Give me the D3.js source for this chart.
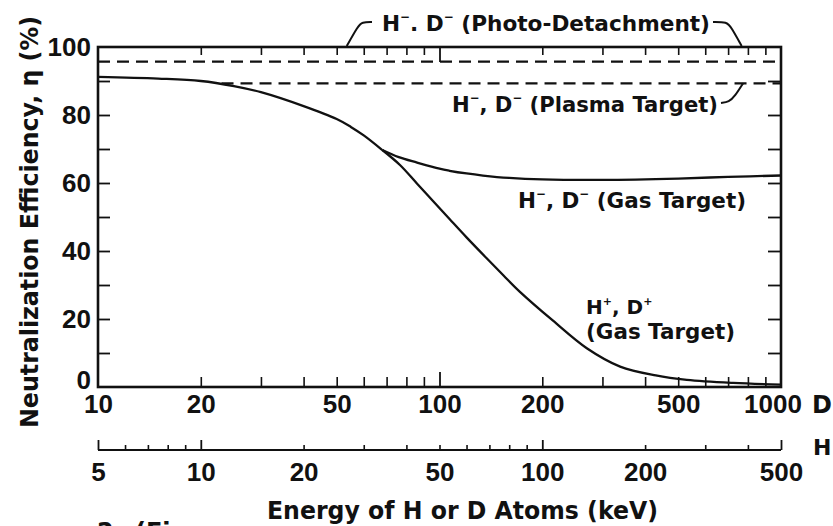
<!DOCTYPE html>
<html><head><meta charset="utf-8">
<script src="https://cdn.jsdelivr.net/npm/d3@7"></script>
<style>body{margin:0;background:#fff}svg{display:block}</style>
</head><body><svg id="c" width="833" height="526"></svg>
<script>
// ---------- data ----------
const yTickLabels = [0, 20, 40, 60, 80, 100];
const yMinorTicks = [10, 20, 30, 40, 50, 60, 70, 80, 90];
const dTickLabels = [10, 20, 50, 100, 200, 500, 1000];
const dMinorTicks = [20, 30, 40, 50, 60, 70, 80, 90, 200, 300, 400, 500, 600, 700, 800, 900];
const dMajorTicks = [100];
const hTickLabels = [5, 10, 20, 50, 100, 200, 500];
const hMinorTicks = [6, 7, 8, 9, 20, 30, 40, 50, 60, 70, 80, 90, 200, 300, 400];
const hMajorTicks = [5, 10, 100, 500];

// common (low energy) gas-target curve, D energy (keV) vs efficiency (%)
const commonE   = [10, 15, 20, 25, 30, 40, 50, 55, 60, 68];
const commonEta = [91.2, 90.7, 90.0, 88.5, 86.7, 82.6, 78.8, 76.5, 74.0, 69.7];
// H-, D- gas target
const negGasE   = [68, 76, 86, 100, 107, 120, 134, 160, 200, 300, 500, 700, 1000];
const negGasEta = [69.7, 67.6, 66.0, 64.2, 63.6, 62.8, 62.2, 61.5, 61.05, 60.9, 61.3, 61.8, 62.2];
// H+, D+ gas target
const posGasE   = [68, 76.6, 86, 95.7, 107, 120, 137, 154, 172, 215, 270, 338, 430, 530, 724, 1000];
const posGasEta = [69.7, 65.3, 59.8, 54.7, 49.4, 44.0, 38.0, 32.8, 28.0, 19.5, 11.4, 6.0, 3.4, 2.1, 1.2, 0.7];
// dashed levels
const photoE = [10, 1000],  photoEta = [95.7, 95.7];
const plasmaE = [23, 1000], plasmaEta = [89.3, 89.3];

// ---------- layout ----------
const L = 98, R = 781, T = 47, B = 387, HY = 450;
const numFont = "'Liberation Sans', Arial, sans-serif";
const txtFont = "'DejaVu Sans', sans-serif";

const svg = d3.select('#c');
const x  = d3.scaleLog().domain([10, 1000]).range([L, R]);
const xH = d3.scaleLog().domain([5, 500]).range([L, R]);
const y  = d3.scaleLinear().domain([0, 100]).range([B, T]);

function styleAxis(g, w) {
  g.select('.domain').remove();
  g.selectAll('line').attr('stroke', '#111').attr('stroke-width', w);
}
function styleLabels(g, size) {
  g.select('.domain').remove();
  g.selectAll('line').remove();
  g.selectAll('text').attr('font-family', numFont).attr('font-weight', 'bold')
    .attr('font-size', size).attr('fill', '#111');
}

// bottom D ticks (inward)
svg.append('g').attr('transform', `translate(0,${B})`)
  .call(d3.axisBottom(x).tickValues(dMinorTicks).tickSize(-10).tickFormat(''))
  .call(g => styleAxis(g, 1.6));
svg.append('g').attr('transform', `translate(0,${B})`)
  .call(d3.axisBottom(x).tickValues(dMajorTicks).tickSize(-15).tickFormat(''))
  .call(g => styleAxis(g, 1.8));
// top ticks (inward)
svg.append('g').attr('transform', `translate(0,${T})`)
  .call(d3.axisTop(x).tickValues(dMinorTicks).tickSize(-8).tickFormat(''))
  .call(g => styleAxis(g, 1.6));
svg.append('g').attr('transform', `translate(0,${T})`)
  .call(d3.axisTop(x).tickValues(dMajorTicks).tickSize(-15).tickFormat(''))
  .call(g => styleAxis(g, 1.8));
// left / right y ticks (inward)
svg.append('g').attr('transform', `translate(${L},0)`)
  .call(d3.axisLeft(y).tickValues(yMinorTicks).tickSize(-12).tickFormat(''))
  .call(g => styleAxis(g, 1.8));
svg.append('g').attr('transform', `translate(${R},0)`)
  .call(d3.axisRight(y).tickValues(yMinorTicks).tickSize(-13).tickFormat(''))
  .call(g => styleAxis(g, 1.8));

// labels
svg.append('g').attr('transform', `translate(${L},0)`)
  .call(d3.axisLeft(y).tickValues(yTickLabels).tickSize(0).tickPadding(7).tickFormat(d3.format('d')))
  .call(g => styleLabels(g, 26))
  .call(g => g.selectAll('.tick').filter(d => d === 0).select('text').attr('dy', '0.05em'));
svg.append('g').attr('transform', `translate(0,${B})`)
  .call(d3.axisBottom(x).tickValues(dTickLabels).tickSize(0).tickPadding(7.5).tickFormat(d3.format('d')))
  .call(g => styleLabels(g, 26))
  .call(g => g.selectAll('.tick').filter(d => d === 1000).select('text').attr('dx', -8.5));

// H axis
svg.append('line').attr('x1', L).attr('x2', R).attr('y1', HY).attr('y2', HY)
  .attr('stroke', '#111').attr('stroke-width', 2);
svg.append('g').attr('transform', `translate(0,${HY})`)
  .call(d3.axisBottom(xH).tickValues(hMinorTicks).tickSize(-5).tickFormat(''))
  .call(g => styleAxis(g, 1.6));
svg.append('g').attr('transform', `translate(0,${HY})`)
  .call(d3.axisBottom(xH).tickValues(hMajorTicks).tickSize(-10).tickFormat(''))
  .call(g => styleAxis(g, 1.8));
svg.append('g').attr('transform', `translate(0,${HY})`)
  .call(d3.axisBottom(xH).tickValues(hTickLabels).tickSize(0).tickPadding(12.5).tickFormat(d3.format('d')))
  .call(g => styleLabels(g, 26));

// frame
svg.append('rect').attr('x', L).attr('y', T).attr('width', R - L).attr('height', B - T)
  .attr('fill', 'none').attr('stroke', '#111').attr('stroke-width', 2.6);

// curves
const line = d3.line().x(d => x(d[0])).y(d => y(d[1])).curve(d3.curveCatmullRom.alpha(0.5));
const zip = (a, b) => a.map((v, i) => [v, b[i]]);
function drawLine(E, eta, dashed) {
  svg.append('path').datum(zip(E, eta)).attr('d', line)
    .attr('fill', 'none').attr('stroke', '#111')
    .attr('stroke-width', dashed ? 2.4 : 2.3)
    .attr('stroke-dasharray', dashed ? '12,7' : null);
}
drawLine(photoE, photoEta, true);
drawLine(plasmaE, plasmaEta, true);
drawLine(commonE, commonEta, false);
drawLine(negGasE, negGasEta, false);
drawLine(posGasE, posGasEta, false);

// annotation labels
function ionLabel(px, py, parts, size, len) {
  const t = svg.append('text').attr('x', px).attr('y', py)
    .attr('font-family', txtFont).attr('font-weight', 'bold')
    .attr('font-size', size).attr('fill', '#111');
  let shifted = false;
  parts.forEach(p => {
    if (p.sup) {
      t.append('tspan').attr('dy', -size * 0.45).attr('font-size', size * 0.55).text(p.sup);
      shifted = true;
    } else {
      t.append('tspan').attr('dy', shifted ? size * 0.45 : 0).text(p.t);
      shifted = false;
    }
  });
  if (len) t.attr('textLength', len).attr('lengthAdjust', 'spacingAndGlyphs');
  return t;
}
const M = '\u2212';
ionLabel(382, 31, [{t:'H'},{sup:M},{t:'. D'},{sup:M},{t:' (Photo-Detachment)'}], 22, 328);
ionLabel(452, 112, [{t:'H'},{sup:M},{t:', D'},{sup:M},{t:' (Plasma Target)'}], 22, 266);
ionLabel(518, 208, [{t:'H'},{sup:M},{t:', D'},{sup:M},{t:' (Gas Target)'}], 22, 228);
ionLabel(586, 314, [{t:'H'},{sup:'+'},{t:', D'},{sup:'+'}], 20);
ionLabel(586, 339, [{t:'(Gas Target)'}], 21, 149);

// leaders
const lead = d3.line().curve(d3.curveBasis);
function leader(pts) {
  svg.append('path').attr('d', lead(pts)).attr('fill', 'none')
    .attr('stroke', '#111').attr('stroke-width', 2);
}
leader([[372, 22], [362, 22], [358, 26], [x(53.5), y(100) - 1]]);
leader([[713, 22], [727, 22], [731, 27], [x(767), y(100) - 1]]);
leader([[721, 103], [729, 102], [735, 96], [x(774), y(89.3)]]);

// axis side letters
svg.append('text').attr('x', 812).attr('y', 413).text('D')
  .attr('font-family', txtFont).attr('font-weight', 'bold').attr('font-size', 24).attr('fill', '#111');
svg.append('text').attr('x', 813).attr('y', 455).text('H')
  .attr('font-family', txtFont).attr('font-weight', 'bold').attr('font-size', 22).attr('fill', '#111');

// titles
svg.append('text').attr('x', 267).attr('y', 519).text('Energy of H or D Atoms (keV)')
  .attr('font-family', txtFont).attr('font-weight', 'bold').attr('font-size', 24)
  .attr('fill', '#111').attr('textLength', 391).attr('lengthAdjust', 'spacingAndGlyphs');
svg.append('text').attr('transform', 'translate(38,428) rotate(-90)')
  .text('Neutralization Efficiency, \u03b7 (%)')
  .attr('font-family', txtFont).attr('font-weight', 'bold').attr('font-size', 24)
  .attr('fill', '#111').attr('textLength', 412).attr('lengthAdjust', 'spacingAndGlyphs');

// cropped caption at the bottom edge (as in the source scan)
svg.append('text').attr('x', 97).attr('y', 540).text('2')
  .attr('font-family', txtFont).attr('font-weight', 'bold').attr('font-size', 24).attr('fill', '#111');
svg.append('text').attr('x', 135).attr('y', 540).text('(Fig')
  .attr('font-family', txtFont).attr('font-weight', 'bold').attr('font-size', 24).attr('fill', '#111');
</script></body></html>
